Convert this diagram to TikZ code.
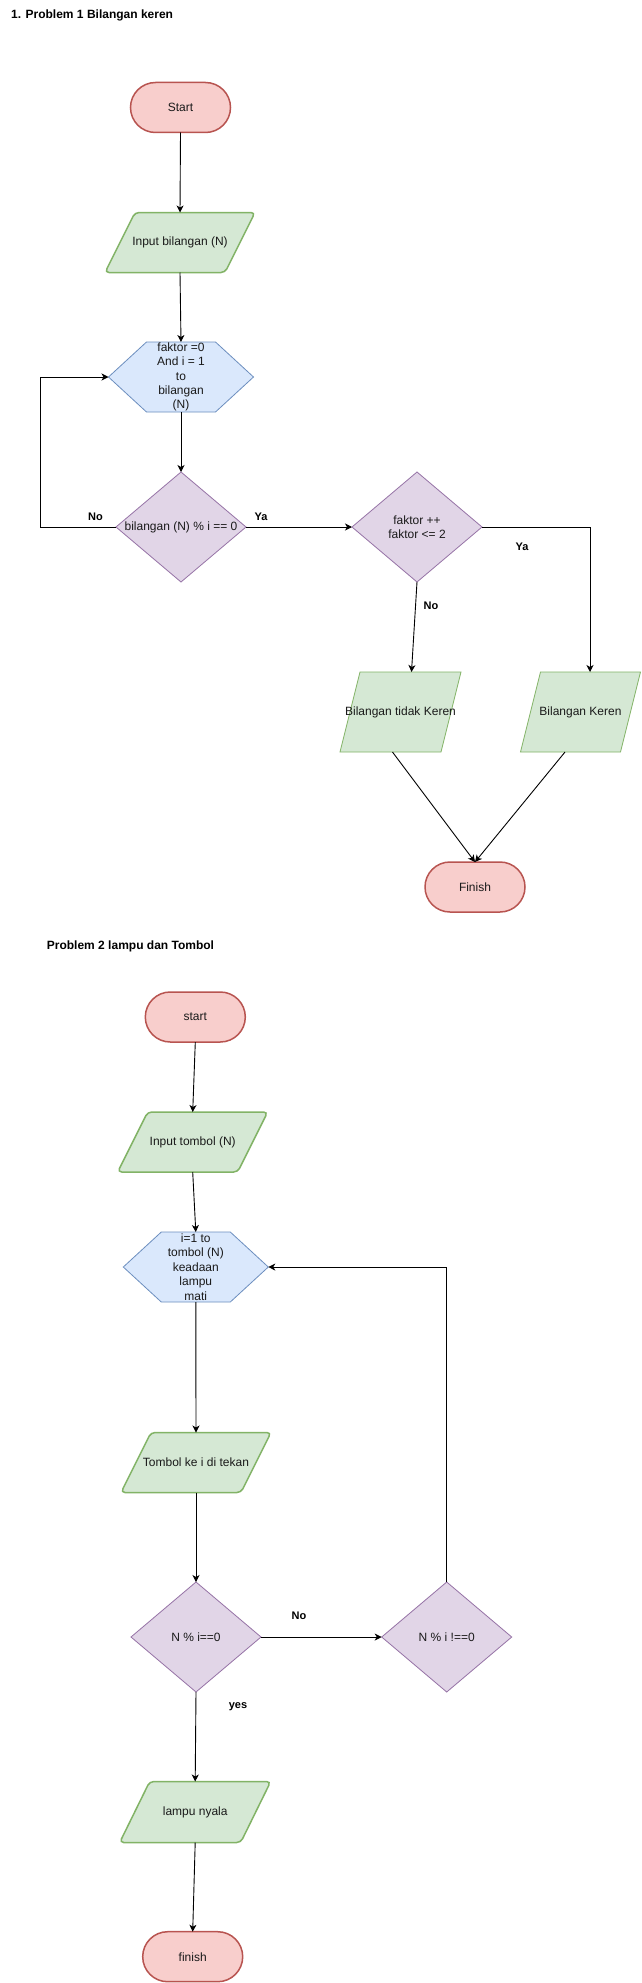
\documentclass[tikz,border=0pt]{standalone}
\usepackage{fontspec}
\setmainfont{Liberation Sans}
\usetikzlibrary{shapes.misc,arrows.meta,calc}
\pgfdeclarelayer{bg}
\pgfsetlayers{bg,main}
\definecolor{termfill}{HTML}{F8CECC}
\definecolor{termline}{HTML}{B85450}
\definecolor{parafill}{HTML}{D5E8D4}
\definecolor{paraline}{HTML}{82B366}
\definecolor{hexfill}{HTML}{DAE8FC}
\definecolor{hexline}{HTML}{6C8EBF}
\definecolor{diafill}{HTML}{E1D5E7}
\definecolor{dialine}{HTML}{9673A6}
\definecolor{txt}{HTML}{1A1A1A}
\tikzset{
  lbl/.style={font=\fontsize{12}{14.4}\selectfont, text=txt, align=center, inner sep=0pt, outer sep=0pt},
  holder/.style={lbl, rectangle},
  term/.style={lbl, rounded rectangle, draw=termline, fill=termfill, line width=1.5pt, minimum width=100pt, minimum height=50pt},
  parathick/.style={draw=paraline, fill=parafill, line width=1.5pt, rounded corners=4pt},
  parathin/.style={draw=paraline, fill=parafill, line width=0.8pt},
  hexs/.style={draw=hexline, fill=hexfill, line width=0.8pt},
  dias/.style={draw=dialine, fill=diafill, line width=0.8pt},
  conn/.style={draw=black, line width=0.9pt, -{Stealth[length=7pt,width=7pt,inset=2pt]}},
  edgelbl/.style={font=\bfseries\fontsize{11}{13}\selectfont, text=black, inner sep=0pt},
  titlelbl/.style={font=\bfseries\fontsize{12}{14}\selectfont, text=black, inner sep=0pt, anchor=west},
}
\newcommand{\drawpara}[3]{\draw[#1] ($(#2.north west)+(#3,0)$) -- (#2.north east) -- ($(#2.south east)+(-#3,0)$) -- (#2.south west) -- cycle;}
\newcommand{\drawhex}[2]{\draw[hexs] (#1.west) -- ($(#1.north west)+(#2,0)$) -- ($(#1.north east)+(-#2,0)$) -- (#1.east) -- ($(#1.south east)+(-#2,0)$) -- ($(#1.south west)+(#2,0)$) -- cycle;}
\newcommand{\drawdia}[1]{\draw[dias] (#1.north) -- (#1.east) -- (#1.south) -- (#1.west) -- cycle;}
\begin{document}
\begin{tikzpicture}[x=1pt,y=-1pt]
\useasboundingbox (0,0) rectangle (641,1983);
\begin{pgfonlayer}{bg}
\fill[white] (0,0) rectangle (641,1983);
\end{pgfonlayer}

% ---------- Problem 1 ----------
\node[titlelbl] (title1) at (11,15) {1. Problem 1 Bilangan keren};
\node[term] (start1) at (180.5,107.5) {Start};
\node[holder, minimum width=150pt, minimum height=60pt] (inbil) at (180,242.5) {Input bilangan (N)};
\node[holder, minimum width=145pt, minimum height=70pt] (hex1) at (181,377) {faktor =0\\And i = 1\\to\\bilangan\\(N)};
\node[holder, minimum width=130pt, minimum height=110pt] (dia1) at (181,527) {bilangan (N) \% i == 0};
\node[holder, minimum width=130pt, minimum height=110pt] (dia2) at (417,527) {faktor ++\\faktor <= 2};
\node[holder, minimum width=121pt, minimum height=80pt] (biltidak) at (400.5,712) {Bilangan tidak Keren};
\node[holder, minimum width=120pt, minimum height=80pt] (bilkeren) at (580.5,712) {Bilangan Keren};
\node[term] (finish1) at (475,887) {Finish};

% ---------- Problem 2 ----------
\node[titlelbl] (title2) at (46.7,946.7) {Problem 2 lampu dan Tombol};
\node[term] (start2) at (195.3,1017) {start};
\node[holder, minimum width=150pt, minimum height=60pt] (intomb) at (192.7,1142) {Input tombol (N)};
\node[holder, minimum width=145pt, minimum height=70pt] (hex2) at (195.8,1267) {i=1 to\\tombol (N)\\keadaan\\lampu\\mati};
\node[holder, minimum width=150pt, minimum height=60pt] (tombol) at (196,1462.5) {Tombol ke i di tekan};
\node[holder, minimum width=130pt, minimum height=110pt] (dia3) at (196,1637) {N \% i==0};
\node[holder, minimum width=130pt, minimum height=110pt] (dia4) at (446.7,1637) {N \% i !==0};
\node[holder, minimum width=151pt, minimum height=61pt] (lampu) at (195.2,1812) {lampu nyala};
\node[term] (finish2) at (192.7,1956.7) {finish};

% ---------- shapes behind text ----------
\begin{pgfonlayer}{bg}
\drawpara{parathick}{inbil}{30}
\drawhex{hex1}{38}
\drawdia{dia1}
\drawdia{dia2}
\drawpara{parathin}{biltidak}{20}
\drawpara{parathin}{bilkeren}{20}
\drawpara{parathick}{intomb}{30}
\drawhex{hex2}{38}
\drawpara{parathick}{tombol}{30}
\drawdia{dia3}
\drawdia{dia4}
\drawpara{parathick}{lampu}{30}
\end{pgfonlayer}

% ---------- connectors problem 1 ----------
\draw[conn] (start1.south) -- (inbil.north);
\draw[conn] (inbil.south) -- (hex1.north);
\draw[conn] (hex1.south) -- (dia1.north);
\draw[conn] (dia1.west) -- ++(-75.4,0) |- (hex1.west);
\draw[conn] (dia1.east) -- (dia2.west);
\draw[conn] (dia2.east) -| ([xshift=9.5pt]bilkeren.north);
\draw[conn] (dia2.south) -- ([xshift=11pt]biltidak.north);
\draw[conn] ([xshift=-8pt]biltidak.south) -- (finish1.north);
\draw[conn] ([xshift=-15.5pt]bilkeren.south) -- (finish1.north);
\node[edgelbl] (lno1) at (95.5,517) {No};
\node[edgelbl] (lya1) at (261,517) {Ya};
\node[edgelbl] (lya2) at (522,547) {Ya};
\node[edgelbl] (lno2) at (431,606) {No};

% ---------- connectors problem 2 ----------
\draw[conn] (start2.south) -- (intomb.north);
\draw[conn] (intomb.south) -- (hex2.north);
\draw[conn] (hex2.south) -- (tombol.north);
\draw[conn] (tombol.south) -- (dia3.north);
\draw[conn] (dia3.east) -- (dia4.west);
\draw[conn] (dia4.north) |- (hex2.east);
\draw[conn] (dia3.south) -- (lampu.north);
\draw[conn] (lampu.south) -- (finish2.north);
\node[edgelbl] (lno3) at (299,1616) {No};
\node[edgelbl] (lyes) at (238,1707) {yes};
\end{tikzpicture}
\end{document}
